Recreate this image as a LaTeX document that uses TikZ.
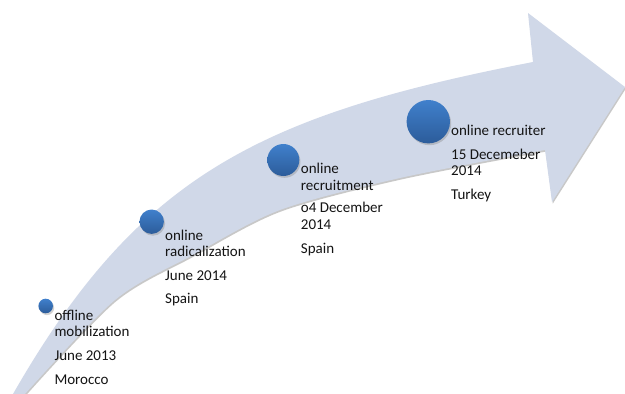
\documentclass[tikz,border=0pt]{standalone}
\usepackage{fontspec}
\setmainfont{Carlito}
\usetikzlibrary{shadows}
\definecolor{arrowfill}{RGB}{208,216,232}
\definecolor{dottop}{RGB}{64,128,204}
\definecolor{dotbot}{RGB}{44,92,154}
\definecolor{txt}{RGB}{20,20,20}
\newcommand{\lblock}[1]{\begin{tabular}[t]{@{}l@{}}#1\end{tabular}}
\tikzset{
  bigarrow/.style={fill=arrowfill, drop shadow={shadow xshift=0.8pt, shadow yshift=-1.6pt, opacity=0.3, fill=black!70}},
  dot/.style={circle, inner sep=0pt, top color=dottop, bottom color=dotbot, draw=none,
    drop shadow={shadow xshift=1.2pt, shadow yshift=-1.8pt, opacity=0.35}},
  lbl/.style={anchor=base west, inner sep=0pt, text=txt, font=\fontsize{15}{16.8}\selectfont}
}
\begin{document}
\begin{tikzpicture}[x=1pt,y=-1pt]
\useasboundingbox (0,0) rectangle (625,394);
\fill[white] (0,0) rectangle (625,394);
% curved arrow
\path[bigarrow] (13,394) .. controls (138,176) and (259,115) .. (533,62)
  -- (528,13) -- (625,87) -- (552,202) -- (545,150)
  -- plot[smooth] coordinates {(545,150) (400,178) (280,210) (193,255) (115,300) (25,394)}
  -- cycle;
% dots
\node[dot, minimum size=14.6pt] (d1) at (45.7,306) {};
\node[dot, minimum size=24.4pt] (d2) at (151.7,221.7) {};
\node[dot, minimum size=32pt] (d3) at (283.3,160) {};
\node[dot, minimum size=43.4pt] (d4) at (428.3,121.7) {};
% labels
\node[lbl] (t1) at (54.3,320) {\lblock{offline\\mobilization\\[7.3pt]June 2013\\[6.5pt]Morocco}};
\node[lbl] (t2) at (165,240) {\lblock{online\\radicalization\\[7.3pt]June 2014\\[5.5pt]Spain}};
\node[lbl] (t3) at (300.7,173.3) {\lblock{online\\recruitment\\[5.6pt]o4 December\\2014\\[7.5pt]Spain}};
\node[lbl] (t4) at (451,135) {\lblock{online recruiter\\[7.2pt]15 Decemeber\\2014\\[6.5pt]Turkey}};
\end{tikzpicture}
\end{document}
